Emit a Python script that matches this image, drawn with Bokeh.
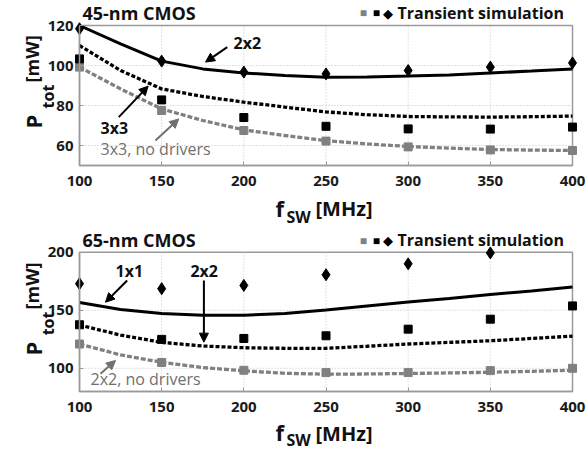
import math
from bokeh.plotting import figure
from bokeh.models import Range1d, FixedTicker, Label, Arrow, NormalHead, BoxAnnotation
from bokeh.core.properties import value
from bokeh.layouts import column
from bokeh.embed import file_html
from bokeh.resources import INLINE

# ---------------- data ----------------
x_ticks = [100, 150, 200, 250, 300, 350, 400]
x_line = [100, 125, 150, 175, 200, 225, 250, 275, 300, 325, 350, 375, 400]
x_sim = [100, 150, 200, 250, 300, 350, 400]

# 45-nm CMOS (model curves)
p45_2x2_line = [120.0, 110.8, 102.2, 98.3, 96.3, 95.0, 94.1, 94.2, 94.7, 95.3, 96.3, 97.2, 98.3]
p45_3x3_line = [110.0, 97.5, 88.3, 84.5, 81.7, 79.2, 76.8, 75.4, 74.5, 74.3, 74.2, 74.4, 74.7]
p45_3x3_nd_line = [99.2, 88.3, 78.3, 72.5, 67.8, 65.0, 62.4, 60.8, 59.5, 58.7, 58.0, 57.7, 57.5]
# 45-nm CMOS (transient simulation)
p45_2x2_sim = [118.4, 102.2, 96.7, 95.8, 97.5, 99.2, 101.3]
p45_3x3_sim = [103.3, 82.8, 74.0, 69.6, 68.3, 68.2, 69.2]
p45_3x3_nd_sim = [99.2, 77.5, 67.5, 62.2, 59.3, 57.8, 57.5]

# 65-nm CMOS (model curves)
p65_1x1_line = [156.6, 150.6, 147.2, 145.7, 145.7, 147.2, 150.2, 153.7, 157.2, 160.2, 163.5, 166.6, 170.0]
p65_2x2_line = [137.2, 128.6, 122.3, 119.2, 117.7, 117.2, 117.2, 119.0, 120.9, 122.3, 123.7, 125.7, 127.7]
p65_2x2_nd_line = [120.9, 111.5, 105.2, 100.6, 97.8, 95.7, 94.9, 95.1, 95.5, 96.0, 96.6, 97.4, 98.3]
# 65-nm CMOS (transient simulation)
x_sim_65_1x1 = [100, 150, 200, 250, 300, 350]
p65_1x1_sim = [172.9, 168.6, 171.4, 180.6, 190.0, 199.4]
p65_2x2_sim = [137.5, 124.9, 125.7, 128.0, 133.7, 142.3, 153.7]
p65_2x2_nd_sim = [120.9, 105.0, 98.3, 96.3, 96.3, 98.0, 100.0]

y_ticks_45 = [60, 80, 100, 120]
y_ticks_65 = [100, 150, 200]

FONT = "Open Sans"
GRAY = "#808080"
GRAY_TXT = "#707070"
BOX = "#9a9a9a"

# ---------------- layout geometry (pixels) ----------------
W = 586
BOX_L, BOX_R = 79, 572


def make_panel(h, box_t, box_b, xlo, xhi, ylo, yhi, yticks):
    sx = (BOX_R - BOX_L) / (xhi - xlo)
    sy = (box_b - box_t) / (yhi - ylo)
    xr = Range1d(xlo - BOX_L / sx, xhi + (W - BOX_R) / sx)
    yr = Range1d(ylo - (h - box_b) / sy, yhi + box_t / sy)
    p = figure(width=W, height=h, x_range=xr, y_range=yr,
               output_backend="svg", toolbar_location=None,
               min_border=0, min_border_left=0, min_border_right=0,
               min_border_top=0, min_border_bottom=0)
    p.outline_line_color = None
    p.grid.visible = False
    p.xaxis.fixed_location = ylo
    p.yaxis.fixed_location = xlo
    p.xaxis.bounds = (xlo, xhi)
    p.yaxis.bounds = (ylo, yhi)
    p.xaxis.ticker = FixedTicker(ticks=x_ticks, minor_ticks=[])
    p.yaxis.ticker = FixedTicker(ticks=yticks, minor_ticks=[])
    p.axis.axis_line_color = BOX
    p.axis.axis_line_width = 1.5
    p.axis.major_tick_in = 4
    p.axis.major_tick_out = 0
    p.axis.major_tick_line_color = BOX
    p.axis.minor_tick_in = 0
    p.axis.minor_tick_out = 0
    p.axis.major_label_text_font = FONT
    p.axis.major_label_text_font_style = "bold"
    p.axis.major_label_text_font_size = "15px"
    p.axis.major_label_text_color = "#1a1a1a"
    p.xaxis.major_label_standoff = 10
    p.yaxis.major_label_standoff = 6
    p.background_fill_color = "white"
    p.border_fill_color = "white"
    # dotted grid inside the plot box, at the tick values
    gx = x_ticks[1:-1]
    p.segment(x0=gx, y0=[ylo] * len(gx), x1=gx, y1=[yhi] * len(gx),
              line_color="#c4c4c4", line_width=1, line_dash="1 2")
    gy = [t for t in yticks if ylo < t < yhi]
    p.segment(x0=[xlo] * len(gy), y0=gy, x1=[xhi] * len(gy), y1=gy,
              line_color="#c4c4c4", line_width=1, line_dash="1 2")
    p.add_layout(BoxAnnotation(left=xlo, right=xhi, bottom=ylo, top=yhi,
                               fill_color=None, fill_alpha=0, line_color=BOX,
                               line_alpha=1, line_width=1.5, level="underlay"))
    return p


def lab(p, x, y, text, size, bold=True, color="#111111", align="left"):
    p.add_layout(Label(x=x, y=y, text=text, text_font=FONT, text_font_size=size,
                       text_font_style="bold" if bold else "normal", text_color=color,
                       text_align=align, text_baseline="middle"))


def vtext(p, x, y, text, size):
    # rotated (bottom-to-top) axis-title pieces
    p.text(x=[x], y=[y], text=[text], angle=math.pi / 2,
           text_font=value(FONT), text_font_size=value(size), text_font_style="bold",
           text_color="#111111", text_align="center", text_baseline="middle")


def arrow(p, xs, ys, xe, ye, color):
    p.add_layout(Arrow(x_start=xs, y_start=ys, x_end=xe, y_end=ye, line_color=color, line_width=2,
                       end=NormalHead(size=9, fill_color=color, line_color=color)))


def axis_labels(p, fy, swy, mhzy, py_P, py_tot, py_mw):
    lab(p, 219.3, fy, "f", "22px")
    lab(p, 226.0, swy, "SW", "16px")
    lab(p, 243.6, mhzy, "[MHz]", "20px")
    vtext(p, 72.0, py_P, "P", "22px")
    vtext(p, 80.8, py_tot, "tot", "16px")
    vtext(p, 70.8, py_mw, "[mW]", "18px")


def legend(p, y):
    lab(p, 272.8, y, "■", "12px", bold=False, color=GRAY, align="center")
    lab(p, 280.7, y, "■", "12px", bold=False, color="black", align="center")
    lab(p, 287.6, y, "◆", "13px", bold=False, color="black", align="center")
    lab(p, 293.5, y, "Transient simulation", "16px")


def series(p, nd_line, mid_line, top_line, nd_sim, mid_sim, top_x, top_sim):
    p.line(x_line, nd_line, line_color=GRAY, line_width=3.3, line_dash="5 2")
    p.line(x_line, mid_line, line_color="black", line_width=3.3, line_dash="4 2")
    p.line(x_line, top_line, line_color="black", line_width=3)
    p.scatter(x_sim, nd_sim, marker="square", size=8, color=GRAY)
    p.scatter(x_sim, mid_sim, marker="square", size=8, color="black")
    p.scatter(top_x, top_sim, marker="diamond", size=12, color="black")


# ---------------- 45-nm panel ----------------
p1 = make_panel(228, 25, 165, 100, 400, 50, 120, y_ticks_45)
series(p1, p45_3x3_nd_line, p45_3x3_line, p45_2x2_line,
       p45_3x3_nd_sim, p45_3x3_sim, x_sim, p45_2x2_sim)
lab(p1, 101.8, 126.3, "45-nm CMOS", "18px")
legend(p1, 126.3)
lab(p1, 193.7, 111.2, "2x2", "16px")
arrow(p1, 189.9, 109.2, 176.7, 101.7, "black")
lab(p1, 112.8, 69, "3x3", "16px")
arrow(p1, 123.9, 74.2, 141.8, 89.7, "black")
lab(p1, 112.8, 58.5, "3x3, no drivers", "16px", bold=False, color=GRAY_TXT)
arrow(p1, 146.2, 62.5, 160.4, 73.3, GRAY_TXT)
axis_labels(p1, 29.0, 24.5, 28.6, 72.0, 84.5, 103.3)

# ---------------- 65-nm panel ----------------
p2 = make_panel(227, 23.7, 163, 100, 400, 80, 200, y_ticks_65)
series(p2, p65_2x2_nd_line, p65_2x2_line, p65_1x1_line,
       p65_2x2_nd_sim, p65_2x2_sim, x_sim_65_1x1, p65_1x1_sim)
lab(p2, 101.8, 210.1, "65-nm CMOS", "18px")
legend(p2, 210.1)
lab(p2, 121.9, 183.5, "1x1", "16px")
arrow(p2, 129.0, 175.6, 115.8, 156.9, "black")
lab(p2, 167.5, 183.5, "2x2", "16px")
arrow(p2, 175.7, 175.6, 175.7, 122.5, "black")
lab(p2, 106.7, 90.4, "2x2, no drivers", "16px", bold=False, color=GRAY_TXT)
arrow(p2, 112.8, 95.3, 121.9, 106.7, GRAY_TXT)
axis_labels(p2, 44.7, 37.8, 44.0, 117.0, 138.6, 170.9)

layout = column(p1, p2)
open("out.html", "w").write(file_html(layout, INLINE))
